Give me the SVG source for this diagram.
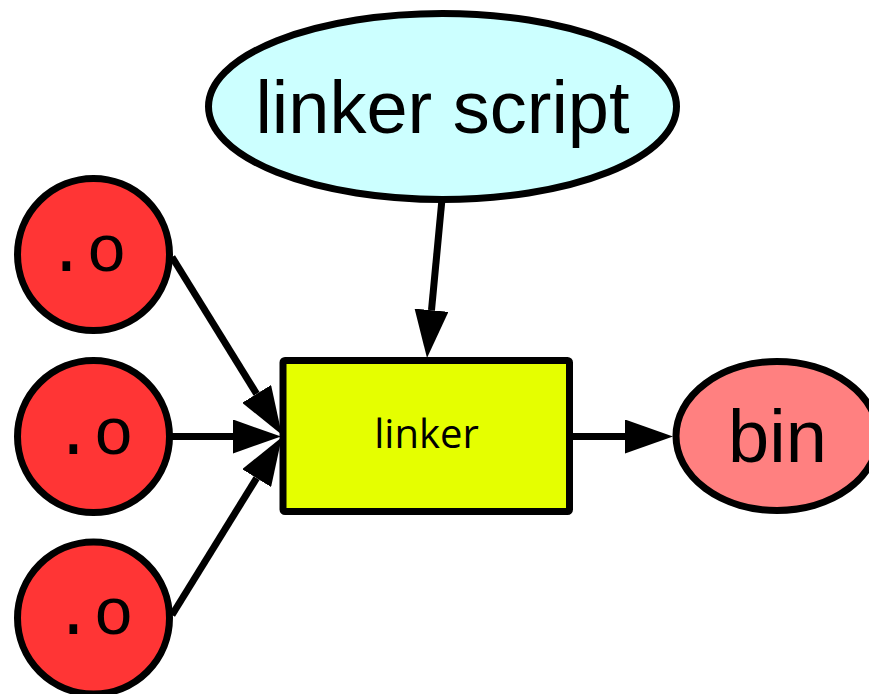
<svg xmlns="http://www.w3.org/2000/svg" width="869" height="694" viewBox="0 0 869 694">
<style>
.node { stroke: #000; stroke-width: 7; }
.edge { stroke: #000; stroke-width: 7; fill: none; }
.obj { fill: #ff3535; }
.lbl { fill: #000; text-anchor: middle; }
.mono { font-family: "Liberation Mono", "DejaVu Sans Mono", monospace; font-size: 67px; }
.sans { font-family: "Liberation Sans", Arial, sans-serif; font-size: 74px; }
</style>
<defs>
<marker id="arrow" markerUnits="userSpaceOnUse" viewBox="0 -17 48 34" markerWidth="48" markerHeight="34" refX="0" refY="0" orient="auto">
<path d="M0,-17 L48,0 L0,17 z" fill="#000"/>
</marker>
</defs>
<rect width="869" height="694" fill="#fff"/>
<g id="edges">
<line class="edge" x1="442" y1="199" x2="431.5" y2="310.2" marker-end="url(#arrow)"/>
<line class="edge" x1="172" y1="257" x2="256.6" y2="393.9" marker-end="url(#arrow)"/>
<line class="edge" x1="172" y1="436.5" x2="233" y2="436.5" marker-end="url(#arrow)"/>
<line class="edge" x1="172" y1="615" x2="256.6" y2="478.1" marker-end="url(#arrow)"/>
<line class="edge" x1="573" y1="436.5" x2="625" y2="436.5" marker-end="url(#arrow)"/>
</g>
<g id="linker_script">
<ellipse class="node" cx="442.5" cy="106.5" rx="234" ry="93" fill="#ccffff"/>
<text class="lbl sans" x="442.5" y="133">linker script</text>
</g>
<g id="obj1">
<circle class="node obj" cx="93.5" cy="254.5" r="76"/>
<text class="lbl mono" x="86.5" y="271">.o</text>
</g>
<g id="obj2">
<circle class="node obj" cx="93.5" cy="436.5" r="76"/>
<text class="lbl mono" x="93.5" y="454">.o</text>
</g>
<g id="obj3">
<circle class="node obj" cx="93.5" cy="618" r="76"/>
<text class="lbl mono" x="93.5" y="634">.o</text>
</g>
<g id="linker">
<rect class="node" x="283" y="360.5" width="286.5" height="151" rx="2" fill="#e5ff00"/>
<text class="lbl" x="426.5" y="448" font-family="'Open Sans', 'Noto Sans', sans-serif" font-size="40">linker</text>
</g>
<g id="bin">
<ellipse class="node" cx="777" cy="436" rx="101" ry="74.5" fill="#ff8080"/>
<text class="lbl sans" x="777.5" y="462">bin</text>
</g>
</svg>
